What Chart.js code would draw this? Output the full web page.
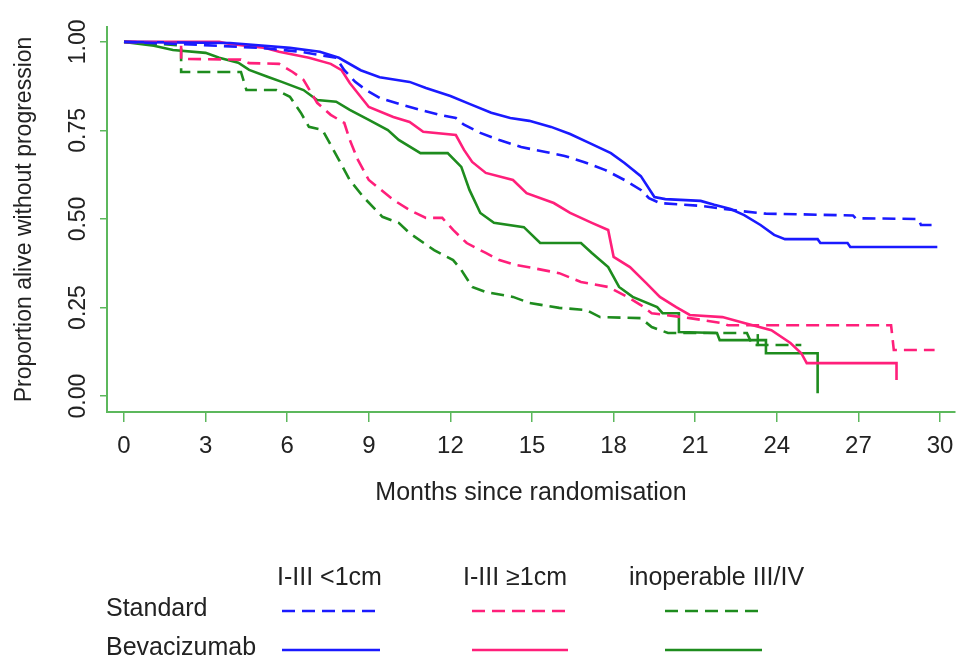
<!DOCTYPE html>
<html>
<head>
<meta charset="utf-8">
<script src="https://cdn.jsdelivr.net/npm/chart.js@4/dist/chart.umd.min.js"></script>
<style>
  html, body { margin: 0; padding: 0; background: #ffffff; }
  #chart { display: block; }
</style>
</head>
<body>
<canvas id="chart" width="957" height="657"></canvas>
<script>
// Progression-free survival by stage group and treatment arm.
// Each curve is a list of vertices (month, proportion); a repeated month marks a vertical drop.
const xTickValues = [0, 3, 6, 9, 12, 15, 18, 21, 24, 27, 30];
const yTickValues = [0, 0.25, 0.5, 0.75, 1];
const yTickLabels = ['0.00', '0.25', '0.50', '0.75', '1.00'];

// Standard, stage I-III < 1cm residual
const stdLt1Months = [0, 2.1, 5.0, 6.5, 7.8, 8.1, 8.5, 8.9, 9.4, 10.1, 10.9, 11.6, 12.2, 12.5, 13.1, 13.8, 14.6, 15.5, 16.2, 16.9, 17.7, 18.4, 19.0, 19.3, 19.7, 21.2, 22.6, 23.6, 26.8, 26.9, 29.2, 29.3, 29.9];
const stdLt1Surv   = [1.0, 0.994, 0.983, 0.972, 0.955, 0.92, 0.887, 0.864, 0.842, 0.825, 0.808, 0.794, 0.785, 0.766, 0.743, 0.723, 0.703, 0.689, 0.678, 0.661, 0.638, 0.61, 0.582, 0.559, 0.545, 0.537, 0.523, 0.515, 0.51, 0.502, 0.5, 0.483, 0.483];

// Bevacizumab, stage I-III < 1cm residual
const bevLt1Months = [0, 3.9, 6.1, 7.2, 7.9, 8.7, 9.4, 10.5, 11.1, 12.0, 12.7, 13.5, 14.2, 14.9, 15.7, 16.4, 17.1, 17.9, 18.4, 19.0, 19.5, 19.9, 21.2, 21.7, 22.3, 22.8, 23.4, 23.9, 24.3, 25.5, 25.6, 26.6, 26.7, 29.9];
const bevLt1Surv   = [1.0, 0.997, 0.983, 0.972, 0.955, 0.92, 0.90, 0.887, 0.87, 0.847, 0.825, 0.80, 0.785, 0.777, 0.76, 0.74, 0.715, 0.686, 0.658, 0.621, 0.562, 0.556, 0.551, 0.54, 0.528, 0.511, 0.483, 0.455, 0.443, 0.443, 0.432, 0.432, 0.421, 0.421];

// Standard, stage I-III >= 1cm residual
const stdGe1Months = [0, 2.1, 2.1, 4.3, 4.6, 5.7, 6.2, 6.6, 7.1, 7.6, 8.1, 8.3, 8.6, 9.0, 9.9, 10.5, 11.1, 11.7, 12.1, 12.6, 13.3, 13.8, 14.4, 15.0, 16.0, 16.8, 17.8, 18.5, 19.0, 19.4, 20.8, 22.0, 22.2, 28.2, 28.3, 29.8];
const stdGe1Surv   = [1.0, 0.997, 0.952, 0.95, 0.94, 0.938, 0.915, 0.893, 0.828, 0.794, 0.771, 0.723, 0.667, 0.61, 0.554, 0.525, 0.503, 0.503, 0.469, 0.432, 0.404, 0.384, 0.37, 0.362, 0.347, 0.322, 0.308, 0.28, 0.257, 0.234, 0.22, 0.206, 0.2, 0.2, 0.13, 0.13];

// Bevacizumab, stage I-III >= 1cm residual
const bevGe1Months = [0, 3.5, 3.9, 5.2, 5.7, 6.8, 7.6, 8.0, 8.3, 8.7, 9.0, 9.9, 10.5, 11.0, 12.2, 12.5, 12.8, 13.3, 14.3, 14.8, 15.8, 16.4, 17.2, 17.8, 18.0, 18.6, 19.2, 19.7, 20.3, 20.8, 22.0, 22.8, 23.8, 24.5, 24.9, 25.1, 28.4, 28.4];
const bevGe1Surv   = [1.0, 1.0, 0.994, 0.983, 0.972, 0.955, 0.938, 0.92, 0.884, 0.845, 0.816, 0.788, 0.774, 0.746, 0.737, 0.695, 0.661, 0.63, 0.61, 0.573, 0.545, 0.517, 0.489, 0.469, 0.393, 0.364, 0.319, 0.28, 0.251, 0.229, 0.223, 0.206, 0.186, 0.15, 0.121, 0.093, 0.093, 0.045];

// Standard, inoperable stage III/IV
const stdInopMonths = [0, 1.7, 2.1, 2.1, 4.3, 4.5, 5.6, 6.1, 6.5, 6.8, 7.3, 7.9, 8.3, 8.8, 9.5, 10.1, 10.5, 11.4, 12.1, 12.4, 12.8, 13.3, 14.3, 14.9, 16.0, 17.0, 17.5, 19.0, 19.4, 20.0, 22.9, 23.1, 24.9];
const stdInopSurv   = [1.0, 0.992, 0.99, 0.915, 0.915, 0.864, 0.864, 0.845, 0.80, 0.76, 0.751, 0.667, 0.61, 0.562, 0.506, 0.489, 0.46, 0.412, 0.384, 0.356, 0.308, 0.294, 0.28, 0.263, 0.249, 0.243, 0.223, 0.22, 0.195, 0.178, 0.178, 0.144, 0.144];

// Bevacizumab, inoperable stage III/IV
const bevInopMonths = [0, 1.1, 1.8, 3.0, 3.5, 4.2, 4.6, 5.3, 5.8, 6.6, 7.1, 7.8, 8.3, 9.0, 9.7, 10.1, 10.9, 11.9, 12.4, 12.7, 13.1, 13.6, 14.7, 15.3, 16.8, 17.2, 17.8, 18.2, 18.7, 19.6, 19.8, 20.4, 20.4, 21.8, 21.9, 23.6, 23.6, 25.5, 25.5];
const bevInopSurv   = [1.0, 0.989, 0.977, 0.969, 0.955, 0.941, 0.921, 0.901, 0.887, 0.864, 0.836, 0.831, 0.808, 0.78, 0.751, 0.723, 0.686, 0.686, 0.647, 0.582, 0.517, 0.489, 0.477, 0.432, 0.432, 0.404, 0.364, 0.308, 0.28, 0.251, 0.234, 0.234, 0.181, 0.178, 0.158, 0.158, 0.121, 0.121, 0.008];

// Censoring tick on the bevacizumab inoperable curve
const censorMonths = [23.3];
const censorSurv   = [0.158];

const BLUE = '#1a1aff';
const PINK = '#ff1f7a';
const GREEN = '#1e8c1e';
const AXIS_GREEN = '#5cb85c';
const TEXT = '#222222';
const FONT = "'Liberation Sans', Arial, Helvetica, sans-serif";
const DASH = [13, 7];

function pts(xs, ys) { return xs.map((x, i) => ({ x: x, y: ys[i] })); }

function curve(label, xs, ys, color, dashed) {
  return {
    label: label,
    data: pts(xs, ys),
    borderColor: color,
    backgroundColor: color,
    borderWidth: 2.6,
    borderDash: dashed ? DASH : [],
    borderJoinStyle: 'miter',
    tension: 0,
    pointRadius: 0,
    fill: false,
    clip: false
  };
}

// Legend grid: column headers, row labels and line samples
const legendGrid = {
  id: 'legendGrid',
  afterDraw(chart) {
    const ctx = chart.ctx;
    ctx.save();
    ctx.fillStyle = TEXT;
    ctx.font = '25px ' + FONT;
    ctx.textBaseline = 'middle';
    ctx.textAlign = 'left';
    ctx.fillText('I-III <1cm', 277, 578);
    ctx.fillText('I-III \u22651cm', 463, 578);
    ctx.fillText('inoperable III/IV', 629, 578);
    ctx.fillText('Standard', 106, 609);
    ctx.fillText('Bevacizumab', 106, 648);
    const cols = [[282, 380, BLUE], [472, 568, PINK], [665, 762, GREEN]];
    ctx.lineWidth = 2.6;
    cols.forEach(([x0, x1, c]) => {
      ctx.strokeStyle = c;
      ctx.setLineDash(DASH);
      ctx.beginPath(); ctx.moveTo(x0, 611); ctx.lineTo(x1, 611); ctx.stroke();
      ctx.setLineDash([]);
      ctx.beginPath(); ctx.moveTo(x0, 650); ctx.lineTo(x1, 650); ctx.stroke();
    });
    ctx.restore();
  }
};

new Chart(document.getElementById('chart'), {
  type: 'line',
  data: {
    datasets: [
      curve('Standard I-III <1cm', stdLt1Months, stdLt1Surv, BLUE, true),
      curve('Standard I-III \u22651cm', stdGe1Months, stdGe1Surv, PINK, true),
      curve('Standard inoperable III/IV', stdInopMonths, stdInopSurv, GREEN, true),
      curve('Bevacizumab I-III <1cm', bevLt1Months, bevLt1Surv, BLUE, false),
      curve('Bevacizumab I-III \u22651cm', bevGe1Months, bevGe1Surv, PINK, false),
      curve('Bevacizumab inoperable III/IV', bevInopMonths, bevInopSurv, GREEN, false),
      {
        label: 'censored',
        type: 'scatter',
        data: pts(censorMonths, censorSurv),
        pointStyle: 'line',
        rotation: 90,
        pointRadius: 6,
        borderColor: GREEN,
        borderWidth: 2.5,
        clip: false
      }
    ]
  },
  options: {
    responsive: false,
    animation: false,
    events: [],
    layout: { autoPadding: false, padding: { left: 0, top: 27, right: 2, bottom: 149 } },
    plugins: { legend: { display: false }, tooltip: { enabled: false } },
    scales: {
      x: {
        type: 'linear',
        min: -0.625,
        max: 30.55,
        afterBuildTicks: s => { s.ticks = xTickValues.map(v => ({ value: v })); },
        afterFit: s => { s.height = 96; s.paddingLeft = 0; s.paddingRight = 0; },
        grid: { drawOnChartArea: false, drawTicks: true, tickLength: 10, color: AXIS_GREEN, lineWidth: 1.5 },
        border: { display: true, color: AXIS_GREEN, width: 2 },
        ticks: {
          autoSkip: false, maxRotation: 0, minRotation: 0, padding: 10,
          color: TEXT, font: { family: FONT, size: 24 },
          callback: v => String(v)
        },
        title: {
          display: true, text: 'Months since randomisation',
          color: TEXT, font: { family: FONT, size: 25 }, padding: 0
        }
      },
      y: {
        type: 'linear',
        min: -0.045,
        max: 1.042,
        afterBuildTicks: s => { s.ticks = yTickValues.map(v => ({ value: v })); },
        afterFit: s => { s.width = 107; s.paddingTop = 0; s.paddingBottom = 0; },
        grid: { drawOnChartArea: false, drawTicks: true, tickLength: 7, color: AXIS_GREEN, lineWidth: 1.5 },
        border: { display: true, color: AXIS_GREEN, width: 2 },
        ticks: {
          minRotation: 90, maxRotation: 90, crossAlign: 'center', padding: -1,
          color: TEXT, font: { family: FONT, size: 23 },
          callback: (v, i) => yTickLabels[i]
        },
        title: {
          display: true, text: 'Proportion alive without progression',
          color: TEXT, font: { family: FONT, size: 23 }, padding: { top: 11, bottom: 0 }
        }
      }
    }
  },
  plugins: [legendGrid]
});
</script>
</body>
</html>
